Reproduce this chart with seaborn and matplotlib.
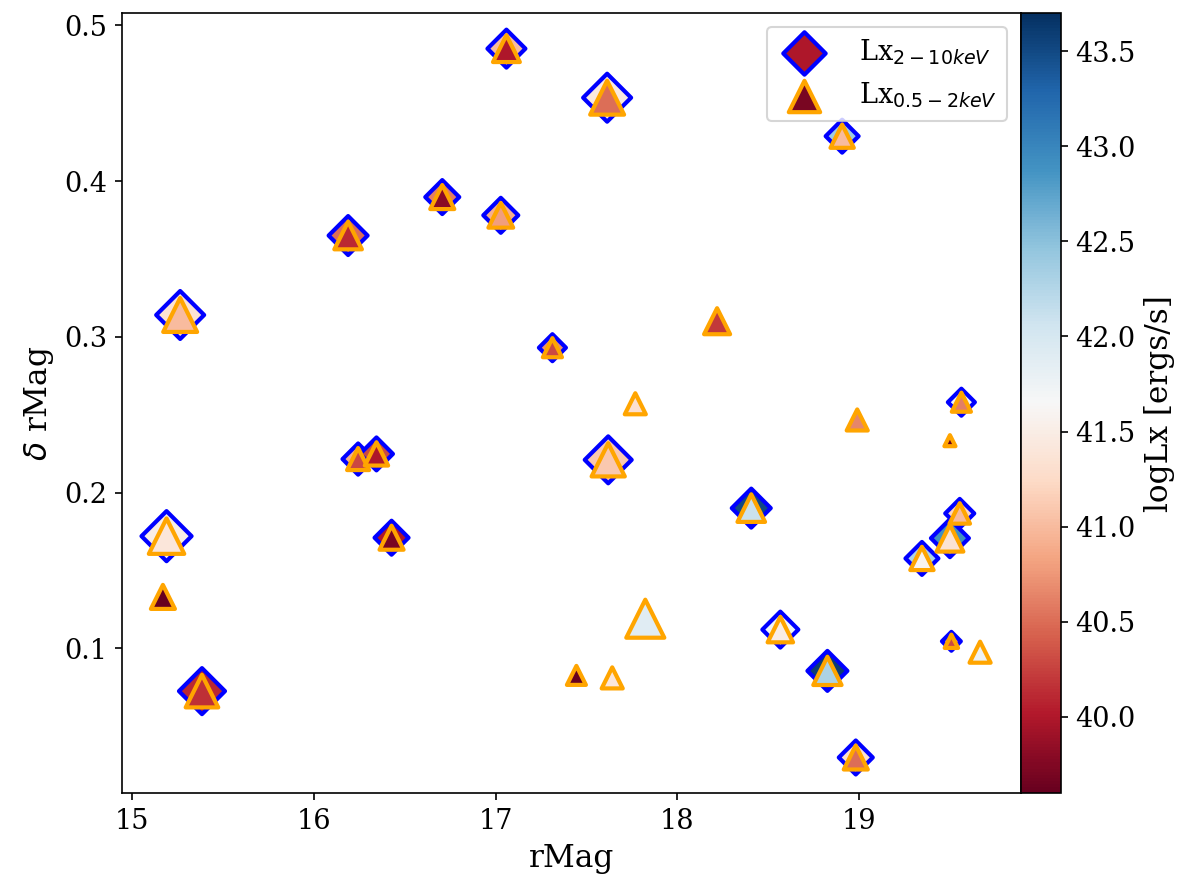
import numpy as np
import pandas as pd
import matplotlib
matplotlib.use("Agg")
import matplotlib.pyplot as plt
import seaborn as sns

# --- data ---
rmag = [16.428, 15.265, 15.19, 15.17, 15.385, 16.244, 16.345, 16.189, 16.707, 17.029,
        17.06, 17.313, 17.614, 18.907, 18.219, 19.563, 17.769, 18.99, 19.50, 17.62,
        18.407, 19.554, 19.50, 19.346, 17.824, 17.445, 17.642, 18.567, 18.826, 19.508,
        19.666, 18.982]
delta_rmag = [0.171, 0.314, 0.172, 0.133, 0.0725, 0.2215, 0.2248, 0.365, 0.3897, 0.378,
              0.485, 0.293, 0.4535, 0.4288, 0.310, 0.258, 0.257, 0.2466, 0.2333, 0.221,
              0.190, 0.1866, 0.1707, 0.1577, 0.119, 0.0826, 0.081, 0.112, 0.0855, 0.1045,
              0.0975, 0.0299]
msize = [133, 265, 289, 133, 244, 112, 125, 175, 133, 141,
         166, 84, 265, 125, 156, 84, 102, 102, 28, 254,
         175, 97, 166, 125, 333, 83, 102, 149, 184, 41,
         102, 133]
lx_hard = [40.0, 41.35, 41.5, np.nan, 40.1, 40.9, 40.3, 40.5, 40.6, 40.9,
           41.0, 40.7, 41.45, 42.4, np.nan, 41.7, np.nan, np.nan, np.nan, 41.1,
           43.5, 41.2, 42.9, 42.3, np.nan, np.nan, np.nan, 41.7, 43.6, 40.7,
           np.nan, 41.3]
lx_soft = [39.7, 41.0, 41.4, 39.6, 40.15, 40.3, 40.0, 40.1, 39.8, 40.8,
           40.0, 40.3, 40.5, 41.0, 40.2, 40.6, 41.3, 40.65, 39.6, 41.1,
           42.1, 41.0, 41.35, 41.6, 41.9, 39.6, 41.4, 41.5, 42.3, 40.3,
           41.75, 40.5]

vmin, vmax = 39.6, 43.7

df = pd.DataFrame({'rMag': rmag, 'drMag': delta_rmag, 's': msize,
                   'hard': lx_hard, 'soft': lx_soft})
dh = df.dropna(subset=['hard']).reset_index(drop=True)

plt.rcParams['font.family'] = 'serif'
plt.rcParams['xtick.labelsize'] = 13
plt.rcParams['ytick.labelsize'] = 13

fig = plt.figure(figsize=(8, 5.887), dpi=150)
ax = fig.add_axes([0.1017, 0.102, 0.7491, 0.883])

sns.scatterplot(data=dh, x='rMag', y='drMag', hue='hard', palette='RdBu',
                hue_norm=(vmin, vmax), marker='D', s=dh['s'].values,
                edgecolor='blue', linewidth=2, legend=False, ax=ax)
sns.scatterplot(data=df, x='rMag', y='drMag', hue='soft', palette='RdBu',
                hue_norm=(vmin, vmax), marker='^', s=df['s'].values,
                edgecolor='orange', linewidth=2, legend=False, ax=ax)

ax.set_xlabel('rMag', fontsize=15)
ax.set_ylabel(r'$\delta$ rMag', fontsize=15)

ax.legend(ax.collections[:2], [r'Lx$_{2-10keV}$', r'Lx$_{0.5-2keV}$'],
          loc='upper right', fontsize=13, scatterpoints=1, markerscale=1.12,
          handletextpad=1.0)

cax = fig.add_axes([0.8508, 0.102, 0.0333, 0.883])
sm = plt.cm.ScalarMappable(cmap='RdBu', norm=plt.Normalize(vmin, vmax))
cb = fig.colorbar(sm, cax=cax)
cb.set_label('logLx [ergs/s]', fontsize=15)

fig.savefig('out.png', dpi=150)
